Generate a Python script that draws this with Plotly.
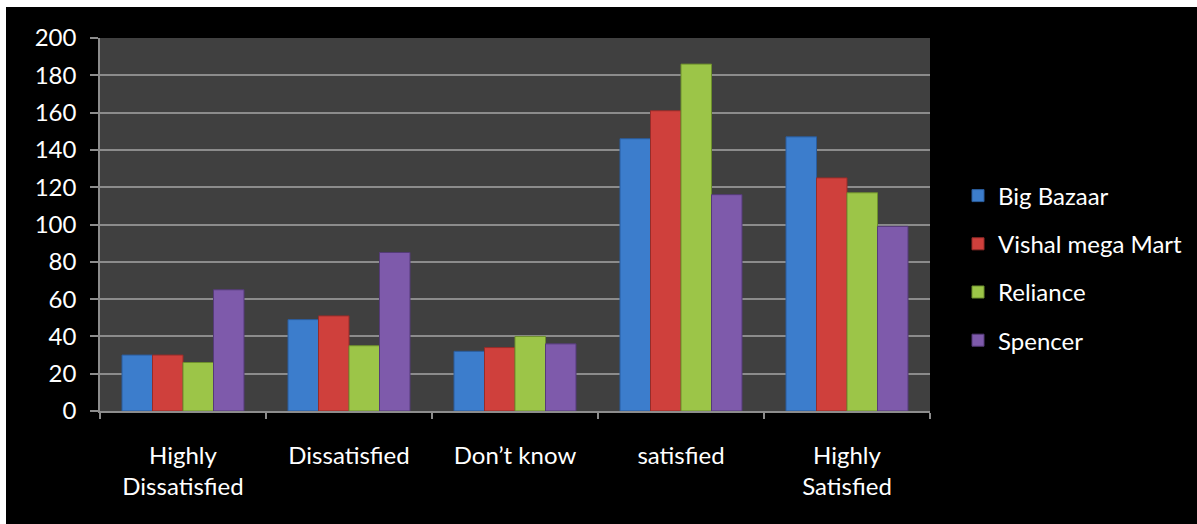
import plotly.graph_objects as go

categories = ["Highly<br>Dissatisfied", "Dissatisfied", "Don’t know", "satisfied", "Highly<br>Satisfied"]
big_bazaar = [30, 49, 32, 146, 147]
vishal_mega_mart = [30, 51, 34, 161, 125]
reliance = [26, 35, 40, 186, 117]
spencer = [65, 85, 36, 116, 99]

series = [
    ("Big Bazaar", big_bazaar, "#3c7dcc", "#2a5c9c"),
    ("Vishal mega Mart", vishal_mega_mart, "#cf403c", "#962c29"),
    ("Reliance", reliance, "#9cc548", "#6d8f2c"),
    ("Spencer", spencer, "#7e5aab", "#553b78"),
]

FONT = "Lato"
FS = 24

fig = go.Figure()
for name, vals, col, edge in series:
    fig.add_trace(go.Bar(
        x=categories, y=vals, name=name, legendgroup=name,
        marker=dict(color=col, line=dict(color=edge, width=1)),
    ))

W, H = 1197, 524
L, R, T, B = 100, 267, 38, 113
pw, ph = W - L - R, H - T - B

fig.update_layout(
    width=W, height=H,
    margin=dict(l=L, r=R, t=T, b=B, autoexpand=False),
    paper_bgcolor="black",
    plot_bgcolor="#404040",
    barmode="group",
    bargap=0.265,
    bargroupgap=0,
    font=dict(family=FONT, size=FS, color="white"),
    showlegend=True,
    legend=dict(
        x=(958 - L) / pw, xanchor="left",
        y=(H - B - 268) / ph, yanchor="middle",
        font=dict(family=FONT, size=FS, color="white"),
        tracegroupgap=14,
        bgcolor="rgba(0,0,0,0)",
    ),
    xaxis=dict(
        showgrid=False, showline=True, linecolor="#8c8c8c", linewidth=1.5,
        ticks="outside", tickson="boundaries", ticklen=6, tickcolor="#8c8c8c", tickwidth=1.5,
        tickfont=dict(family=FONT, size=FS, color="white"),
        ticklabelstandoff=22,
    ),
    yaxis=dict(
        range=[0, 200], dtick=20, tick0=0,
        showgrid=True, gridcolor="#8c8c8c", gridwidth=1.5,
        showline=True, linecolor="#8c8c8c", linewidth=1.5,
        ticks="outside", ticklen=8, tickcolor="#8c8c8c", tickwidth=1.5,
        tickfont=dict(family=FONT, size=FS, color="white"),
        ticklabelstandoff=9,
        zeroline=False,
    ),
    shapes=[
        dict(type="rect", xref="paper", yref="paper",
             x0=-L / pw, x1=(W - L) / pw, y0=(H - B - 7) / ph, y1=(H - B) / ph,
             fillcolor="white", line=dict(width=0), layer="above"),
        dict(type="rect", xref="paper", yref="paper",
             x0=-L / pw, x1=(6 - L) / pw, y0=-B / ph, y1=(H - B) / ph,
             fillcolor="white", line=dict(width=0), layer="above"),
    ],
)

fig.write_html("out.html")
